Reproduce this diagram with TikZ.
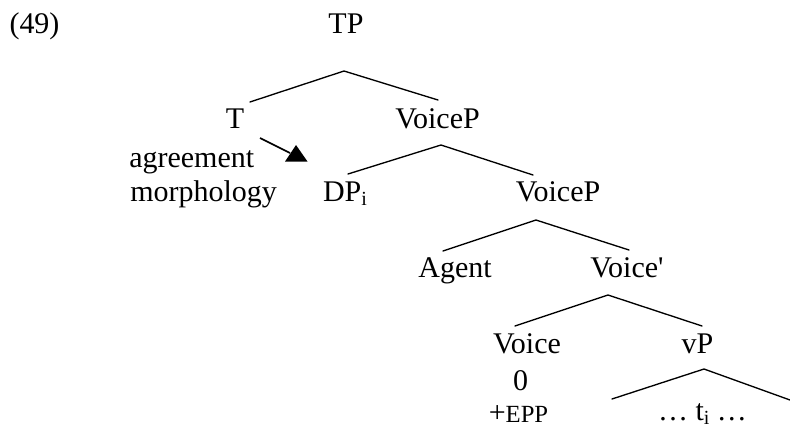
\documentclass[tikz,border=0pt]{standalone}
\usepackage{fontspec}
\setmainfont{Liberation Serif}
\newcommand{\lowi}{\raisebox{-3pt}{\fontsize{15}{15}\selectfont i}}
\newcommand{\smallcap}[1]{{\fontsize{18.5}{18.5}\selectfont #1}}
\begin{document}
\begin{tikzpicture}[x=0.75pt,y=-0.75pt,
  lab/.style={anchor=base, inner sep=0pt, font=\fontsize{22.5}{27}\selectfont},
  branch/.style={line width=1pt, line cap=round},
  pointer/.style={line width=1.3pt}]
\useasboundingbox (0,0) rectangle (790,429);

% example number
\node[lab] (ex) at (34.5,33) {(49)};

% tree labels
\node[lab] (tp)      at (346,33)   {TP};
\node[lab] (t)       at (235,128)  {T};
\node[lab] (voicepa) at (437.5,128) {VoiceP};
\node[lab, anchor=base west] (agr)   at (129,167) {agreement};
\node[lab, anchor=base west] (morph) at (130,201) {morphology};
\node[lab] (dp)      at (345,201)  {DP\lowi};
\node[lab] (voicepb) at (558,201)  {VoiceP};
\node[lab] (agent)   at (455,277)  {Agent};
\node[lab] (voicebar) at (627,277) {Voice\textquotesingle};
\node[lab] (voice)   at (527,353)  {Voice};
\node[lab] (vp)      at (697.5,353) {vP};
\node[lab] (zero)    at (520.5,390) {0};
\node[lab] (epp)     at (518.5,422) {+\smallcap{EPP}};
\node[lab] (trace)   at (702.5,420) {\ldots\ t\lowi\ \ldots};

% branch points
\coordinate (tpA) at (344,71);   \coordinate (tpL) at (250,102);  \coordinate (tpR) at (438,100);
\coordinate (vaA) at (441,145);  \coordinate (vaL) at (348,174);  \coordinate (vaR) at (533,175);
\coordinate (vbA) at (536,220);  \coordinate (vbL) at (443,251);  \coordinate (vbR) at (629,250);
\coordinate (vcA) at (608,295);  \coordinate (vcL) at (515,326);  \coordinate (vcR) at (702,326);
\coordinate (vpA) at (704,369);  \coordinate (vpL) at (612,399);  \coordinate (vpR) at (790,400);

\draw[branch] (tpL) -- (tpA) -- (tpR);
\draw[branch] (vaL) -- (vaA) -- (vaR);
\draw[branch] (vbL) -- (vbA) -- (vbR);
\draw[branch] (vcL) -- (vcA) -- (vcR);
\draw[branch] (vpL) -- (vpA) -- (vpR);

% agreement pointer
\coordinate (arrS) at (260,138);
\coordinate (arrE) at (290,153);
\draw[pointer] (arrS) -- (arrE);
\fill (296,145) -- (285,161.5) -- (307.5,161.5) -- cycle;
\end{tikzpicture}
\end{document}
